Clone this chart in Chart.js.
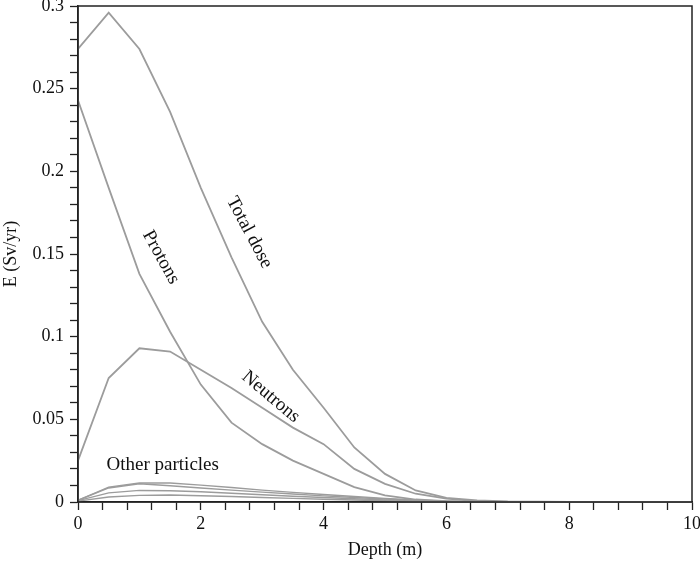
<!DOCTYPE html>
<html>
<head>
<meta charset="utf-8">
<script src="https://cdn.jsdelivr.net/npm/chart.js@4.4.1/dist/chart.umd.min.js"></script>
<style>
  html, body { margin: 0; padding: 0; background: #fff; }
  #wrap { width: 700px; height: 564px; }
</style>
</head>
<body>
<div id="wrap"><canvas id="doseChart"></canvas></div>
<script>
// Depth (m) of each sampled point
const DEPTH = [0, 0.5, 1, 1.5, 2, 2.5, 3, 3.5, 4, 4.5, 5, 5.5, 6, 6.5, 7, 8, 9, 10];

// Effective dose E (Sv/yr)
const TOTAL_DOSE = [0.274, 0.296, 0.274, 0.236, 0.190, 0.148, 0.109, 0.080, 0.057, 0.033, 0.017, 0.007, 0.0025, 0.001, 0.0003, 0, 0, 0];
const PROTONS    = [0.243, 0.190, 0.138, 0.103, 0.071, 0.048, 0.035, 0.025, 0.017, 0.009, 0.004, 0.0015, 0.0005, 0, 0, 0, 0, 0];
const NEUTRONS   = [0.025, 0.075, 0.093, 0.091, 0.080, 0.069, 0.057, 0.045, 0.035, 0.020, 0.011, 0.005, 0.002, 0.0005, 0, 0, 0, 0];
const OTHER_1    = [0.001, 0.009, 0.0115, 0.0115, 0.0102, 0.0088, 0.0072, 0.0058, 0.0045, 0.0033, 0.0022, 0.0012, 0.0005, 0.0002, 0, 0, 0, 0];
const OTHER_2    = [0.001, 0.0085, 0.011, 0.0098, 0.0085, 0.0072, 0.006, 0.0048, 0.0037, 0.0027, 0.0018, 0.001, 0.0004, 0.0001, 0, 0, 0, 0];
const OTHER_3    = [0.0008, 0.0055, 0.007, 0.0068, 0.0062, 0.0053, 0.0044, 0.0035, 0.0027, 0.002, 0.0013, 0.0007, 0.0003, 0, 0, 0, 0, 0];
const OTHER_4    = [0.0005, 0.003, 0.004, 0.0042, 0.0038, 0.0033, 0.0027, 0.0022, 0.0017, 0.0012, 0.0008, 0.0004, 0.0001, 0, 0, 0, 0, 0];

// In-plot curve labels: text, anchor depth, anchor dose, rotation (deg)
const LABEL_TEXT  = ['Total dose', 'Protons', 'Neutrons', 'Other particles'];
const LABEL_X     = [2.79, 1.35, 3.14, 1.38];
const LABEL_Y     = [0.163, 0.148, 0.0636, 0.0224];
const LABEL_ANGLE = [62, 61, 40, 0];

const SERIF = '"Liberation Serif", "DejaVu Serif", serif';
const LINE_COLOR = '#9c9c9c';

const toPoints = (values) => values.map((v, i) => ({ x: DEPTH[i], y: v }));

const series = [TOTAL_DOSE, PROTONS, NEUTRONS, OTHER_1, OTHER_2, OTHER_3, OTHER_4];
const datasets = series.map((vals, i) => ({
    label: 'curve' + i,
    data: toPoints(vals),
    borderColor: LINE_COLOR,
    borderWidth: i < 3 ? 1.8 : 1.4,
    pointRadius: 0,
    tension: 0,
    fill: false
}));

// frame round the plot area
const framePlugin = {
    id: 'frame',
    afterDatasetsDraw(chart) {
        const { ctx, chartArea: a } = chart;
        ctx.save();
        ctx.strokeStyle = '#222';
        ctx.lineWidth = 1.5;
        ctx.strokeRect(a.left, a.top, a.right - a.left, a.bottom - a.top);
        ctx.restore();
    }
};

// curve labels placed in data coordinates
const labelPlugin = {
    id: 'curveLabels',
    afterDatasetsDraw(chart) {
        const { ctx, scales } = chart;
        ctx.save();
        ctx.fillStyle = '#111';
        ctx.font = '19px ' + SERIF;
        ctx.textAlign = 'center';
        ctx.textBaseline = 'middle';
        LABEL_TEXT.forEach((t, i) => {
            const px = scales.x.getPixelForValue(LABEL_X[i]);
            const py = scales.y.getPixelForValue(LABEL_Y[i]);
            ctx.save();
            ctx.translate(px, py);
            ctx.rotate(LABEL_ANGLE[i] * Math.PI / 180);
            ctx.fillText(t, 0, 0);
            ctx.restore();
        });
        ctx.restore();
    }
};

const ctx = document.getElementById('doseChart').getContext('2d');
new Chart(ctx, {
    type: 'line',
    data: { datasets },
    options: {
        responsive: true,
        maintainAspectRatio: false,
        animation: false,
        layout: { padding: { top: 6, right: 8, left: 0, bottom: 0 } },
        plugins: {
            legend: { display: false },
            tooltip: { enabled: false }
        },
        scales: {
            x: {
                type: 'linear',
                min: 0,
                max: 10,
                afterFit: (s) => {
                    s.height = 62;
                    s.paddingLeft = 0;
                    s.paddingRight = 0;
                },
                border: { display: true, color: '#222', width: 1.5 },
                grid: { drawOnChartArea: false, drawTicks: true, tickLength: 8, tickColor: '#222', tickWidth: 1.3 },
                ticks: {
                    stepSize: 0.4,
                    autoSkip: false,
                    maxRotation: 0,
                    maxTicksLimit: 100,
                    padding: 3,
                    color: '#111',
                    font: { family: SERIF, size: 18 },
                    callback: (value) => {
                        const r = Math.round(value * 10) / 10;
                        return Math.abs(r / 2 - Math.round(r / 2)) < 1e-6 ? String(r) : '';
                    }
                },
                title: {
                    display: true,
                    text: 'Depth (m)',
                    color: '#111',
                    font: { family: SERIF, size: 18 },
                    padding: { top: 0, bottom: 3 }
                }
            },
            y: {
                type: 'linear',
                min: 0,
                max: 0.3,
                afterFit: (s) => {
                    s.width = 78;
                    s.paddingTop = 0;
                    s.paddingBottom = 0;
                },
                border: { display: true, color: '#222', width: 1.5 },
                grid: { drawOnChartArea: false, drawTicks: true, tickLength: 8, tickColor: '#222', tickWidth: 1.3 },
                ticks: {
                    stepSize: 0.01,
                    autoSkip: false,
                    maxTicksLimit: 100,
                    padding: 6,
                    color: '#111',
                    font: { family: SERIF, size: 18 },
                    callback: (value) => {
                        const v = Math.round(value * 100);
                        return v % 5 === 0 ? String(v / 100) : '';
                    }
                },
                title: {
                    display: true,
                    text: 'E (Sv/yr)',
                    color: '#111',
                    font: { family: SERIF, size: 18 },
                    padding: { top: 0, bottom: 0 }
                }
            }
        }
    },
    plugins: [framePlugin, labelPlugin]
});
</script>
</body>
</html>
